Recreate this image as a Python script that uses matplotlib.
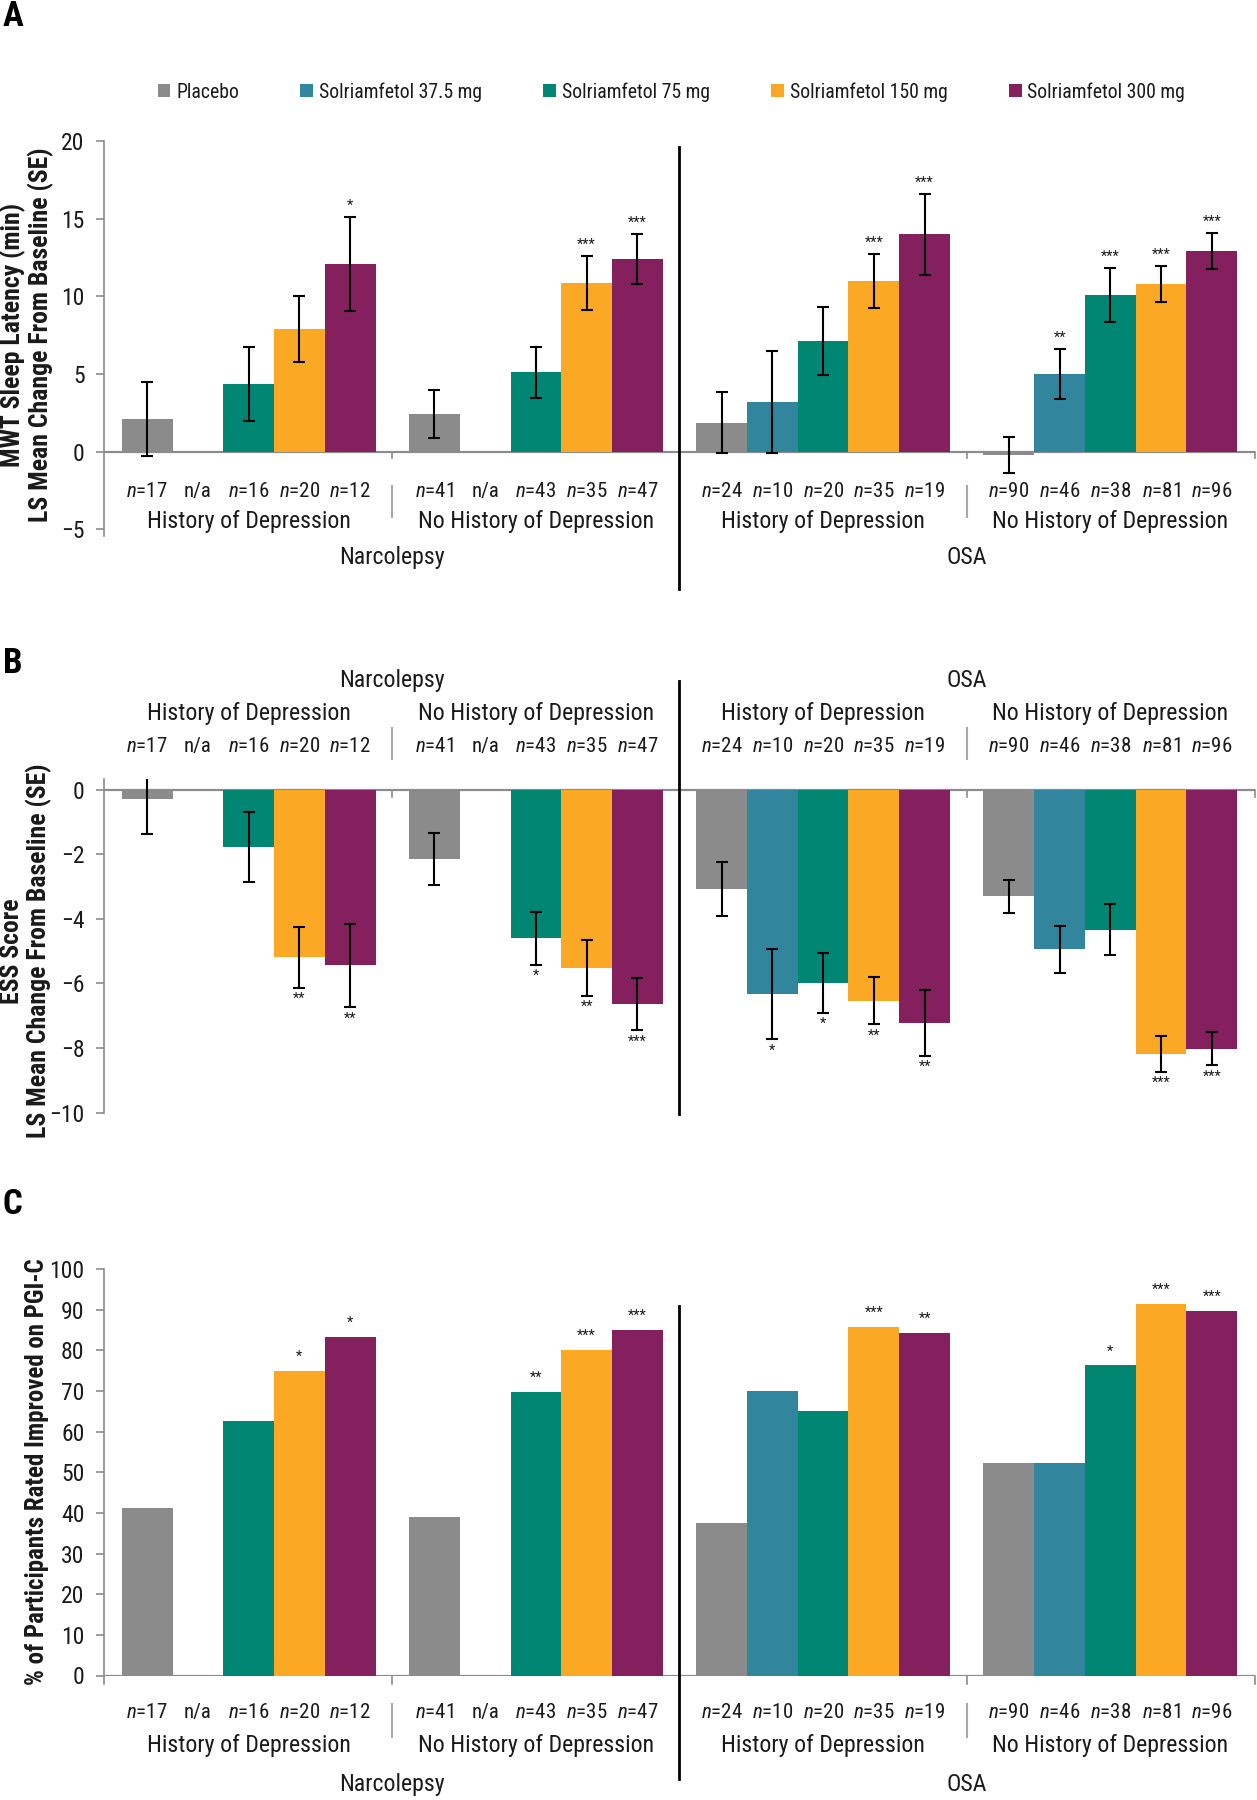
import numpy as np
import matplotlib
matplotlib.use("Agg")
import matplotlib.pyplot as plt
from matplotlib.patches import Patch
from matplotlib import font_manager as fm

# ---- choose a condensed sans family if one is installed ----
_names = {f.name for f in fm.fontManager.ttflist}
FAM, STRETCH, SC = None, "normal", 1.0
for cand in ["Liberation Sans Narrow", "Arial Narrow", "Roboto Condensed",
             "Noto Sans Condensed", "DejaVu Sans Condensed", "Open Sans Condensed",
             "Noto Sans SemiCondensed", "Open Sans SemiCondensed"]:
    if cand in _names:
        FAM = cand
        break
if FAM is None:
    for f in fm.fontManager.ttflist:
        st = f.stretch
        cond = (isinstance(st, str) and "condensed" in st) or (isinstance(st, (int, float)) and st < 500)
        if cond and "Sans" in f.name and "Mono" not in f.name:
            FAM, STRETCH = f.name, "condensed"
            break
if FAM is None:
    FAM, SC = "Liberation Sans", 0.86

plt.rcParams['font.family'] = [FAM, 'Liberation Sans', 'DejaVu Sans']
plt.rcParams['font.stretch'] = STRETCH
plt.rcParams['mathtext.fontset'] = 'custom'
plt.rcParams['mathtext.rm'] = FAM
plt.rcParams['mathtext.it'] = FAM + ':italic'

nan = np.nan

# ---------------- data ----------------
series = ["Placebo", "Solriamfetol 37.5 mg", "Solriamfetol 75 mg",
          "Solriamfetol 150 mg", "Solriamfetol 300 mg"]
colors = ["#8B8B8B", "#31869D", "#008673", "#FBA925", "#85205F"]
subgroups = ["History of Depression", "No History of Depression",
             "History of Depression", "No History of Depression"]
conditions = ["Narcolepsy", "OSA"]

n_placebo = [17, 41, 24, 90]
n_375 = [None, None, 10, 46]
n_75 = [16, 43, 20, 38]
n_150 = [20, 35, 35, 81]
n_300 = [12, 47, 19, 96]

# Panel A: MWT
mwt_placebo = [2.1, 2.4, 1.85, -0.25]
mwt_375 = [nan, nan, 3.2, 5.0]
mwt_75 = [4.35, 5.1, 7.1, 10.1]
mwt_150 = [7.9, 10.85, 11.0, 10.8]
mwt_300 = [12.1, 12.4, 14.0, 12.9]
mwt_se_placebo = [2.4, 1.55, 1.97, 1.16]
mwt_se_375 = [nan, nan, 3.3, 1.6]
mwt_se_75 = [2.4, 1.64, 2.2, 1.74]
mwt_se_150 = [2.1, 1.74, 1.75, 1.18]
mwt_se_300 = [3.03, 1.6, 2.6, 1.16]
mwt_sig_placebo = ["", "", "", ""]
mwt_sig_375 = ["", "", "", "**"]
mwt_sig_75 = ["", "", "", "***"]
mwt_sig_150 = ["", "***", "***", "***"]
mwt_sig_300 = ["*", "***", "***", "***"]

# Panel B: ESS
ess_placebo = [-0.28, -2.13, -3.06, -3.3]
ess_375 = [nan, nan, -6.33, -4.94]
ess_75 = [-1.76, -4.6, -5.99, -4.34]
ess_150 = [-5.19, -5.52, -6.54, -8.18]
ess_300 = [-5.44, -6.64, -7.22, -8.02]
ess_se_placebo = [1.07, 0.81, 0.84, 0.52]
ess_se_375 = [nan, nan, 1.4, 0.72]
ess_se_75 = [1.09, 0.83, 0.93, 0.79]
ess_se_150 = [0.95, 0.87, 0.73, 0.55]
ess_se_300 = [1.3, 0.81, 1.03, 0.52]
ess_sig_placebo = ["", "", "", ""]
ess_sig_375 = ["", "", "*", ""]
ess_sig_75 = ["", "*", "*", ""]
ess_sig_150 = ["**", "**", "**", "***"]
ess_sig_300 = ["**", "***", "**", "***"]

# Panel C: PGI-C
pgic_placebo = [41.2, 39.0, 37.5, 52.2]
pgic_375 = [nan, nan, 70.0, 52.2]
pgic_75 = [62.5, 69.8, 65.0, 76.3]
pgic_150 = [75.0, 80.0, 85.7, 91.4]
pgic_300 = [83.3, 85.1, 84.2, 89.6]
pgic_sig_placebo = ["", "", "", ""]
pgic_sig_375 = ["", "", "", ""]
pgic_sig_75 = ["", "**", "", "*"]
pgic_sig_150 = ["*", "***", "***", "***"]
pgic_sig_300 = ["*", "***", "**", "***"]

n_all = [n_placebo, n_375, n_75, n_150, n_300]
mwt = [mwt_placebo, mwt_375, mwt_75, mwt_150, mwt_300]
mwt_se = [mwt_se_placebo, mwt_se_375, mwt_se_75, mwt_se_150, mwt_se_300]
mwt_sig = [mwt_sig_placebo, mwt_sig_375, mwt_sig_75, mwt_sig_150, mwt_sig_300]
ess = [ess_placebo, ess_375, ess_75, ess_150, ess_300]
ess_se = [ess_se_placebo, ess_se_375, ess_se_75, ess_se_150, ess_se_300]
ess_sig = [ess_sig_placebo, ess_sig_375, ess_sig_75, ess_sig_150, ess_sig_300]
pgic = [pgic_placebo, pgic_375, pgic_75, pgic_150, pgic_300]
pgic_sig = [pgic_sig_placebo, pgic_sig_375, pgic_sig_75, pgic_sig_150, pgic_sig_300]

# ---------------- layout ----------------
W, H = 1257, 1800
fig = plt.figure(figsize=(W / 100, H / 100), dpi=100)

GSTEP = 5.66
goff = np.arange(4) * GSTEP
XMIN, XMAX = -0.85, 3 * GSTEP + 4 + 0.85
bounds = goff[:3] + 4.83
XL, XR = 104, 1255

AX_GRAY = "#8C8C8C"
TXT = "#1A1A1A"

FS_TICK = 17 * SC
FS_N = 15 * SC
FS_GRP = 17.2 * SC
FS_LEG = 14.2 * SC
FS_YL = 18.5 * SC


def make_ax(top_px, bot_px):
    return fig.add_axes([XL / W, 1 - bot_px / H, (XR - XL) / W, (bot_px - top_px) / H])


def style(ax, ylim, yticks):
    ax.set_xlim(XMIN, XMAX)
    ax.set_ylim(*ylim)
    for s in ["top", "right", "bottom"]:
        ax.spines[s].set_visible(False)
    ax.spines["left"].set_color(AX_GRAY)
    ax.spines["left"].set_linewidth(1.2)
    ax.set_xticks([])
    ax.set_yticks(yticks)
    ax.tick_params(axis="y", direction="out", length=6, width=1.2, color=AX_GRAY,
                   labelsize=FS_TICK, pad=8, labelcolor=TXT)
    ax.axhline(0, color=AX_GRAY, lw=1.6, zorder=1)


def bars(ax, vals, errs=None):
    for s in range(5):
        x = goff + s
        v = np.array(vals[s], dtype=float)
        ax.bar(x, v, width=1.0, color=colors[s], edgecolor="none", zorder=2,
               label=series[s])
        if errs is not None:
            ax.errorbar(x, v, yerr=np.array(errs[s], dtype=float), fmt="none",
                        ecolor="black", elinewidth=1.5, capsize=4, capthick=1.5,
                        zorder=3)


def stars(ax, vals, errs, sigs, offset_pts):
    for s in range(5):
        for g in range(4):
            t = sigs[s][g]
            if not t:
                continue
            v = vals[s][g]
            e = errs[s][g] if errs is not None else 0.0
            if v >= 0:
                y, dy, va = v + e, offset_pts, "bottom"
            else:
                y, dy, va = v - e, -offset_pts, "top"
            ax.annotate(t, (goff[g] + s, y), xytext=(0, dy), textcoords="offset points",
                        ha="center", va=va, fontsize=10.5, color=TXT, zorder=4)


def nlabels(ax, y):
    for s in range(5):
        for g in range(4):
            n = n_all[s][g]
            lab = "n/a" if n is None else r"$\mathit{n}$=" + str(n)
            ax.text(goff[g] + s, y, lab, ha="center", va="center", fontsize=FS_N,
                    color=TXT, clip_on=False)


def group_text(ax, y_sub, y_cond, y_sep0, y_sep1):
    for g in range(4):
        ax.text(goff[g] + 2, y_sub, subgroups[g], ha="center", va="center",
                fontsize=FS_GRP, color=TXT, clip_on=False)
    for c in range(2):
        ax.text(goff[2 * c] + 4.83, y_cond, conditions[c], ha="center", va="center",
                fontsize=FS_GRP, color=TXT, clip_on=False)
    for b in [bounds[0], bounds[2]]:
        ax.plot([b, b], [y_sep0, y_sep1], color="#A8A8A8", lw=1.5, clip_on=False)


def bottom_ticks(ax, xs, y0, y1):
    for b in xs:
        ax.plot([b, b], [y0, y1], color=AX_GRAY, lw=1.2, clip_on=False, zorder=1)


def divider(ax, y0, y1):
    ax.plot([bounds[1], bounds[1]], [y0, y1], color="black", lw=2.0,
            clip_on=False, zorder=5)


# ---------------- Panel A ----------------
axA = make_ax(141, 536.2)
style(axA, (-5.45, 20), [-5, 0, 5, 10, 15, 20])
bars(axA, mwt, mwt_se)
stars(axA, mwt, mwt_se, mwt_sig, 3)
nlabels(axA, -2.6)
group_text(axA, -4.53, -6.79, -2.21, -4.2)
bottom_ticks(axA, [bounds[0], bounds[2], XMAX], 0, -0.4)
divider(axA, 19.6, -8.86)
handles = [Patch(facecolor=colors[i], edgecolor="none") for i in range(5)]
axA.legend(handles, series, ncol=5, loc="center", bbox_to_anchor=(0.493, 1.124),
           frameon=False, fontsize=FS_LEG, handlelength=0.65, handleheight=0.65,
           handletextpad=0.3, columnspacing=3.1, labelcolor=TXT)
fig.text(27 / W, 1 - 335 / H,
         "MWT Sleep Latency (min)\nLS Mean Change From Baseline (SE)",
         rotation=90, ha="center", va="center", multialignment="center",
         fontsize=FS_YL, fontweight="bold", color=TXT, linespacing=1.1)

# ---------------- Panel B ----------------
axB = make_ax(778.7, 1112.5)
style(axB, (-10, 0.35), [-10, -8, -6, -4, -2, 0])
bars(axB, ess, ess_se)
stars(axB, ess, ess_se, ess_sig, 3)
nlabels(axB, 1.36)
group_text(axB, 2.36, 3.38, 1.92, 0.96)
bottom_ticks(axB, [bounds[0], bounds[2], XMAX], 0, -0.22)
divider(axB, 3.38, -10.05)
fig.text(26 / W, 1 - 951 / H,
         "ESS Score\nLS Mean Change From Baseline (SE)",
         rotation=90, ha="center", va="center", multialignment="center",
         fontsize=FS_YL, fontweight="bold", color=TXT, linespacing=1.1)

# ---------------- Panel C ----------------
axC = make_ax(1269, 1675.5)
style(axC, (0, 100), list(range(0, 101, 10)))
bars(axC, pgic)
stars(axC, pgic, None, pgic_sig, 5)
nlabels(axC, -8.98)
group_text(axC, -17.1, -26.9, -7.0, -15.1)
bottom_ticks(axC, [XMIN, bounds[0], bounds[2], XMAX], 0, -2.2)
divider(axC, 90.9, -25.5)
fig.text(37 / W, 1 - 1472 / H, "% of Participants Rated Improved on PGI-C",
         rotation=90, ha="center", va="center", fontsize=FS_YL * 0.97,
         fontweight="bold", color=TXT)

# panel letters
for letter, ypx in [("A", 17), ("B", 663), ("C", 1204)]:
    fig.text(3 / W, 1 - ypx / H, letter, ha="left", va="center", fontsize=25,
             fontweight="bold", color="black")

fig.savefig("out.png", dpi=100)
